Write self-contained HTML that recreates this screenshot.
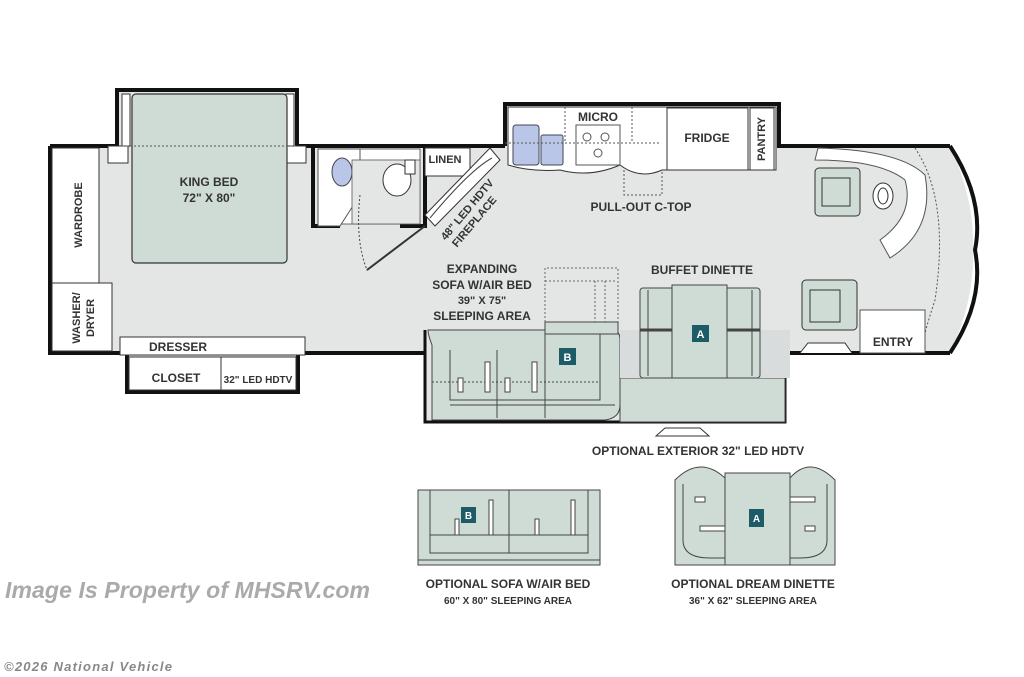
<!DOCTYPE html>
<html><head><meta charset="utf-8"><style>
html,body{margin:0;padding:0;background:#fff;width:1024px;height:677px;overflow:hidden}
svg text{font-family:"Liberation Sans Narrow","Liberation Sans",sans-serif;font-weight:bold;fill:#333}
</style></head><body>
<svg width="1024" height="677" viewBox="0 0 1024 677" xmlns="http://www.w3.org/2000/svg">
<!-- interior floor -->
<path d="M50 146 H117 V90 H297 V146 H505 V104 H779 V146 H950 Q975 200 973 250 Q975 300 950 353 H788 V330 H425 V353 H298 V392 H127 V353 H50 Z" fill="#e4e6e6"/>
<!-- living slide -->
<rect x="425" y="330" width="360" height="92" fill="#e4e6e6"/>
<!-- walls -->
<g fill="none" stroke="#111" stroke-width="4">
<path d="M117 146 V90 H297 V146"/>
<path d="M50 146 H117 M297 146 H505 M505 146 V104 H779 V146 H950"/>
<path d="M50 146 V353 H127 V392 H298 V353 H425"/>
<path d="M950 146 Q985 200 975 250 Q985 300 950 353"/>
<path d="M788 353 H950"/>
<path d="M425 330 V422 H785 V330" stroke-width="3"/>
<path d="M785 353 H790"/>
</g>
<!-- bed slide inner -->
<g fill="#fff" stroke="#333" stroke-width="1">
<rect x="122" y="94" width="8" height="52"/><rect x="286" y="94" width="8" height="52"/>
<rect x="108" y="146" width="20" height="17"/><rect x="286" y="146" width="20" height="17"/>
</g>
<rect x="132" y="94" width="155" height="169" rx="4" fill="#cfdcd6" stroke="#333" stroke-width="1.2"/>
<line x1="122" y1="146" x2="297" y2="146" stroke="#555" stroke-dasharray="2 2"/>
<text x="209" y="186" font-size="12" text-anchor="middle">KING BED</text>
<text x="209" y="202" font-size="12" text-anchor="middle">72" X 80"</text>
<!-- wardrobe -->
<rect x="52" y="148" width="47" height="135" fill="#fff" stroke="#333"/>
<text transform="translate(82 215) rotate(-90)" font-size="11" text-anchor="middle">WARDROBE</text>
<rect x="52" y="283" width="60" height="68" fill="#fff" stroke="#333"/>
<text transform="translate(80 318) rotate(-90)" font-size="11" text-anchor="middle">WASHER/</text>
<text transform="translate(94 318) rotate(-90)" font-size="11" text-anchor="middle">DRYER</text>
<!-- dresser / closet -->
<rect x="120" y="337" width="185" height="18" fill="#fff" stroke="#333"/>
<text x="178" y="351" font-size="12" text-anchor="middle">DRESSER</text>
<rect x="129" y="357" width="92" height="33" fill="#fff" stroke="#333"/>
<text x="176" y="382" font-size="12" text-anchor="middle">CLOSET</text>
<rect x="221" y="357" width="75" height="33" fill="#fff" stroke="#333"/>
<text x="258" y="383" font-size="10" text-anchor="middle">32" LED HDTV</text>
<!-- bath -->
<path d="M313 146 V226 H340 M400 226 H425 V146" fill="none" stroke="#111" stroke-width="4"/>
<rect x="318" y="149" width="102" height="75" fill="#fff" stroke="#444" stroke-width="0.8"/>
<path d="M336 149 H360 V195 L340 226 H318 V149 Z" fill="#fff" stroke="#555"/>
<ellipse cx="342" cy="172" rx="10" ry="14" fill="#b9c6e8" stroke="#445"/>
<rect x="352" y="160" width="68" height="64" fill="#e4e6e6" stroke="#555" stroke-width="0.8"/>
<ellipse cx="397" cy="180" rx="14" ry="16" fill="#fff" stroke="#333"/>
<rect x="405" y="160" width="10" height="14" fill="#fff" stroke="#333"/>
<path d="M360 195 Q355 240 367 270 L425 226" fill="none" stroke="#444" stroke-dasharray="2 2"/>
<line x1="367" y1="270" x2="425" y2="226" stroke="#333" stroke-width="2"/>
<!-- linen/fireplace -->
<rect x="425" y="148" width="45" height="28" fill="#fff" stroke="#333"/>
<text x="445" y="163" font-size="11" text-anchor="middle">LINEN</text>
<path d="M425 215 L490 148 L500 160 L435 226 Z" fill="#fff" stroke="#333"/>
<path d="M430 218 Q470 170 492 158" stroke="#444" fill="none"/>
<text transform="translate(470 212) rotate(-50)" font-size="11" text-anchor="middle">48" LED HDTV</text>
<text transform="translate(477 224) rotate(-50)" font-size="11" text-anchor="middle">FIREPLACE</text>
<!-- kitchen -->
<path d="M508 107 H776 V170 H662 Q640 180 620 165 Q590 178 560 170 Q530 172 508 165 Z" fill="#fff" stroke="#333"/>
<rect x="513" y="125" width="26" height="40" rx="3" fill="#b9c6e8" stroke="#445"/>
<rect x="541" y="135" width="22" height="30" rx="2" fill="#b9c6e8" stroke="#445"/>
<rect x="576" y="125" width="44" height="40" fill="#fff" stroke="#555"/>
<circle cx="587" cy="137" r="4" fill="none" stroke="#555"/><circle cx="605" cy="137" r="4" fill="none" stroke="#555"/><circle cx="598" cy="153" r="4" fill="none" stroke="#555"/>
<text x="598" y="121" font-size="12" text-anchor="middle">MICRO</text>
<line x1="505" y1="143" x2="660" y2="143" stroke="#555" stroke-dasharray="2 2"/>
<line x1="565" y1="107" x2="565" y2="143" stroke="#555" stroke-dasharray="2 2"/>
<line x1="632" y1="107" x2="632" y2="143" stroke="#555" stroke-dasharray="2 2"/>
<rect x="667" y="108" width="81" height="62" fill="#fff" stroke="#333"/>
<text x="707" y="142" font-size="12" text-anchor="middle">FRIDGE</text>
<rect x="750" y="108" width="24" height="62" fill="#fff" stroke="#333"/>
<text transform="translate(765 139) rotate(-90)" font-size="11" text-anchor="middle">PANTRY</text>
<path d="M624 170 V195 H662 V170" fill="none" stroke="#555" stroke-dasharray="2 2"/>
<text x="641" y="211" font-size="12" text-anchor="middle">PULL-OUT C-TOP</text>
<!-- front cockpit -->
<path d="M818 148 Q900 150 925 175 Q935 230 890 258 L880 240 Q915 215 905 180 Q880 160 815 160 Z" fill="#fff" stroke="#555"/>
<path d="M915 148 Q950 200 935 300 Q925 330 920 353" fill="none" stroke="#555" stroke-dasharray="2 2"/>
<rect x="815" y="168" width="45" height="48" rx="4" fill="#cfdcd6" stroke="#333"/>
<rect x="822" y="178" width="28" height="28" fill="none" stroke="#333"/>
<ellipse cx="883" cy="196" rx="10" ry="13" fill="#fff" stroke="#333"/>
<ellipse cx="883" cy="196" rx="5" ry="8" fill="none" stroke="#333"/>
<rect x="802" y="280" width="55" height="50" rx="4" fill="#cfdcd6" stroke="#333"/>
<rect x="810" y="290" width="30" height="32" fill="none" stroke="#333"/>
<rect x="860" y="310" width="65" height="43" fill="#fff" stroke="#555"/>
<text x="893" y="346" font-size="12" text-anchor="middle">ENTRY</text>
<path d="M800 353 L808 343 H845 L852 353" fill="#fff" stroke="#333"/>
<!-- sofa -->
<path d="M428 330 H612 Q620 330 620 340 V405 Q620 418 605 420 H432 V345 Q428 335 428 330 Z" fill="#cfdcd6" stroke="#444"/>
<rect x="545" y="322" width="73" height="12" fill="#cfdcd6" stroke="#444"/>
<rect x="545" y="334" width="55" height="66" fill="#cfdcd6" stroke="#444"/>
<path d="M450 350 V400 H598" fill="none" stroke="#444"/>
<line x1="450" y1="405" x2="615" y2="405" stroke="#444"/>
<line x1="497" y1="350" x2="497" y2="418" stroke="#444"/>
<line x1="545" y1="350" x2="545" y2="418" stroke="#444"/>
<line x1="432" y1="382" x2="600" y2="382" stroke="#444" stroke-dasharray="2 2"/>
<g fill="#fff" stroke="#444"><rect x="458" y="378" width="5" height="14"/><rect x="485" y="362" width="5" height="30"/><rect x="505" y="378" width="5" height="14"/><rect x="532" y="362" width="5" height="30"/></g>
<rect x="559" y="348" width="17" height="17" fill="#1d5c66"/>
<text x="567.5" y="361" font-size="11" fill="#fff" text-anchor="middle" style="fill:#fff">B</text>
<path d="M545 322 V268 H618 V322 M545 281 H615 M595 281 V322 M605 281 V322" fill="none" stroke="#666" stroke-dasharray="2 2"/>
<text x="482" y="273" font-size="12" text-anchor="middle">EXPANDING</text>
<text x="482" y="289" font-size="12" text-anchor="middle">SOFA W/AIR BED</text>
<text x="482" y="304" font-size="11" text-anchor="middle">39" X 75"</text>
<text x="482" y="320" font-size="12" text-anchor="middle">SLEEPING AREA</text>
<!-- dinette -->
<rect x="620" y="378" width="165" height="44" fill="#cfdcd6" stroke="#444"/>
<rect x="620" y="330" width="170" height="48" fill="#d9dcdc" stroke="none"/>
<rect x="640" y="288" width="120" height="90" fill="#cfdcd6" stroke="#444" rx="3"/>
<line x1="648" y1="290" x2="648" y2="376" stroke="#444"/><line x1="752" y1="290" x2="752" y2="376" stroke="#444"/>
<line x1="640" y1="330" x2="760" y2="330" stroke="#444" stroke-width="3"/>
<rect x="672" y="285" width="55" height="93" fill="#cfdcd6" stroke="#444"/>
<rect x="692" y="325" width="17" height="17" fill="#1d5c66"/>
<text x="700.5" y="338" font-size="11" text-anchor="middle" style="fill:#fff">A</text>
<text x="702" y="274" font-size="12" text-anchor="middle">BUFFET DINETTE</text>
<path d="M656 436 L665 428 H700 L709 436 Z" fill="#fff" stroke="#333"/>
<text x="698" y="455" font-size="12" text-anchor="middle">OPTIONAL EXTERIOR 32" LED HDTV</text>
<!-- optional sofa -->
<rect x="418" y="490" width="182" height="75" fill="#cfdcd6" stroke="#444"/>
<path d="M430 490 V553 H588 V490 M430 535 H588 M509 490 V553" fill="none" stroke="#444"/>
<line x1="418" y1="560" x2="600" y2="560" stroke="#444"/>
<rect x="461" y="507" width="15" height="16" fill="#1d5c66"/>
<text x="468.5" y="519" font-size="10" text-anchor="middle" style="fill:#fff">B</text>
<g fill="#fff" stroke="#444"><rect x="455" y="519" width="4" height="16"/><rect x="489" y="500" width="4" height="35"/><rect x="535" y="519" width="4" height="16"/><rect x="571" y="500" width="4" height="35"/></g>
<text x="508" y="588" font-size="12" text-anchor="middle">OPTIONAL SOFA W/AIR BED</text>
<text x="508" y="604" font-size="10" text-anchor="middle">60" X 80" SLEEPING AREA</text>
<!-- dream dinette -->
<path d="M675 565 V480 Q700 455 725 478 H790 Q810 455 835 480 V565 Z" fill="#cfdcd6" stroke="#444"/>
<path d="M683 484 V540 Q683 558 710 558 H725 M827 484 V540 Q827 558 800 558 H790" fill="none" stroke="#444"/>
<rect x="725" y="473" width="65" height="92" fill="#cfdcd6" stroke="#444"/>
<rect x="749" y="509" width="15" height="18" fill="#1d5c66"/>
<text x="756.5" y="522" font-size="10" text-anchor="middle" style="fill:#fff">A</text>
<g fill="#fff" stroke="#444"><rect x="695" y="497" width="10" height="5"/><rect x="700" y="526" width="25" height="5"/><rect x="790" y="497" width="25" height="5"/><rect x="805" y="526" width="10" height="5"/></g>
<text x="753" y="588" font-size="12" text-anchor="middle">OPTIONAL DREAM DINETTE</text>
<text x="753" y="604" font-size="10" text-anchor="middle">36" X 62" SLEEPING AREA</text>
<!-- watermarks -->
<text x="5" y="598" font-size="23" font-style="italic" style="fill:#aaa;font-family:'Liberation Sans',sans-serif" textLength="365">Image Is Property of MHSRV.com</text>
<text x="4" y="671" font-size="13" font-style="italic" style="fill:#888;font-family:'Liberation Sans',sans-serif" textLength="168">©2026 National Vehicle</text>
</svg>
</body></html>
